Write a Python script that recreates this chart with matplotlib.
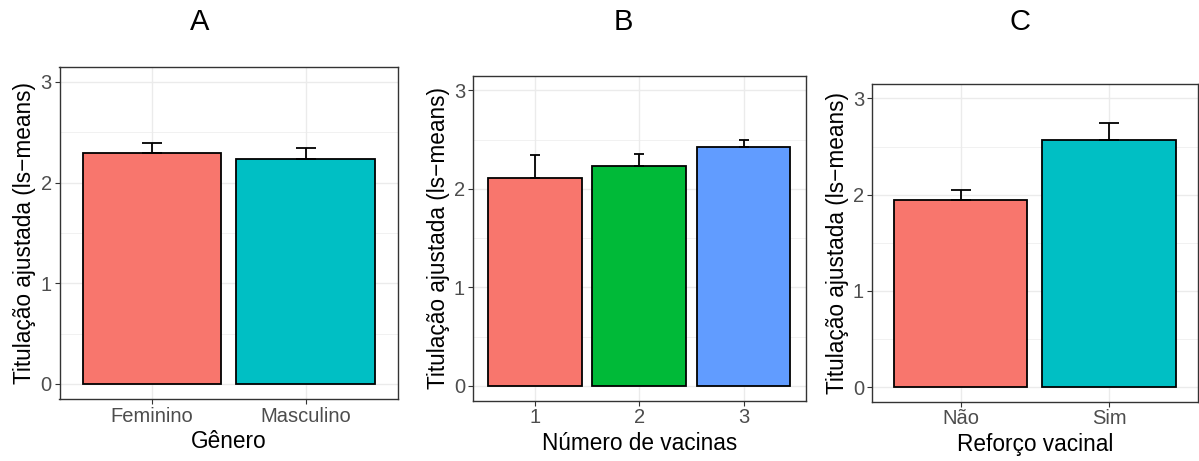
import matplotlib
matplotlib.use("Agg")
import matplotlib.pyplot as plt
import numpy as np

plt.rcParams['font.family'] = ['Liberation Sans', 'DejaVu Sans']

# Data
panel_titles = ["A", "B", "C"]
xlabels = ["Gênero", "Número de vacinas", "Reforço vacinal"]
ylabel = "Titulação ajustada (ls\u2212means)"

catA = ["Feminino", "Masculino"]
valA = [2.29, 2.23]
errA = [0.10, 0.11]

catB = ["1", "2", "3"]
valB = [2.11, 2.23, 2.43]
errB = [0.23, 0.12, 0.07]

catC = ["Não", "Sim"]
valC = [1.95, 2.57]
errC = [0.10, 0.17]

colA = ["#F8766D", "#00BFC4"]
colB = ["#F8766D", "#00BA38", "#619CFF"]
colC = ["#F8766D", "#00BFC4"]

W, H = 1199, 461
fig = plt.figure(figsize=(W / 100, H / 100), dpi=100)

# pixel boxes: left, right, top, bottom
boxes = [(59.5, 398, 66.7, 399), (472.7, 806, 75.7, 400.7), (871.7, 1198, 84, 401.7)]
title_x = [200, 623, 1020]
capsizes = [7.2, 3.6, 7.2]

panels = [(catA, valA, errA, colA), (catB, valB, errB, colB), (catC, valC, errC, colC)]

for i, ((cats, vals, errs, cols), (l, r, t, b)) in enumerate(zip(panels, boxes)):
    ax = fig.add_axes([l / W, (H - b) / H, (r - l) / W, (b - t) / H])
    x = np.arange(1, len(cats) + 1)
    ax.set_axisbelow(True)
    ax.bar(x, vals, width=0.9, color=cols, edgecolor="black", linewidth=1.3, zorder=2)
    ax.errorbar(x, vals, yerr=[np.zeros(len(vals)), errs], fmt="none", ecolor="black",
                elinewidth=1.3, capsize=capsizes[i], capthick=1.3, zorder=3)
    ax.set_xlim(0.4, len(cats) + 0.6)
    ax.set_ylim(-0.15, 3.15)
    ax.set_xticks(x)
    ax.set_xticklabels(cats)
    ax.set_yticks([0, 1, 2, 3])
    ax.set_yticks([0.5, 1.5, 2.5], minor=True)
    ax.grid(True, which="major", color="#EBEBEB", linewidth=1.0)
    ax.grid(True, which="minor", axis="y", color="#EBEBEB", linewidth=0.5)
    ax.tick_params(axis="both", which="major", length=3.5, width=0.8, color="#333333",
                   labelcolor="#4D4D4D", labelsize=14.5, pad=2)
    ax.tick_params(axis="both", which="minor", length=0)
    for s in ax.spines.values():
        s.set_color("#333333")
        s.set_linewidth(1.0)
    ax.set_xlabel(xlabels[i], fontsize=16.3, labelpad=3)
    ax.set_ylabel(ylabel, fontsize=16.3, labelpad=3)
    fig.text(title_x[i] / W, 1 - 22 / H, panel_titles[i], fontsize=21, ha="center", va="center")

fig.savefig("out.png", dpi=100)
